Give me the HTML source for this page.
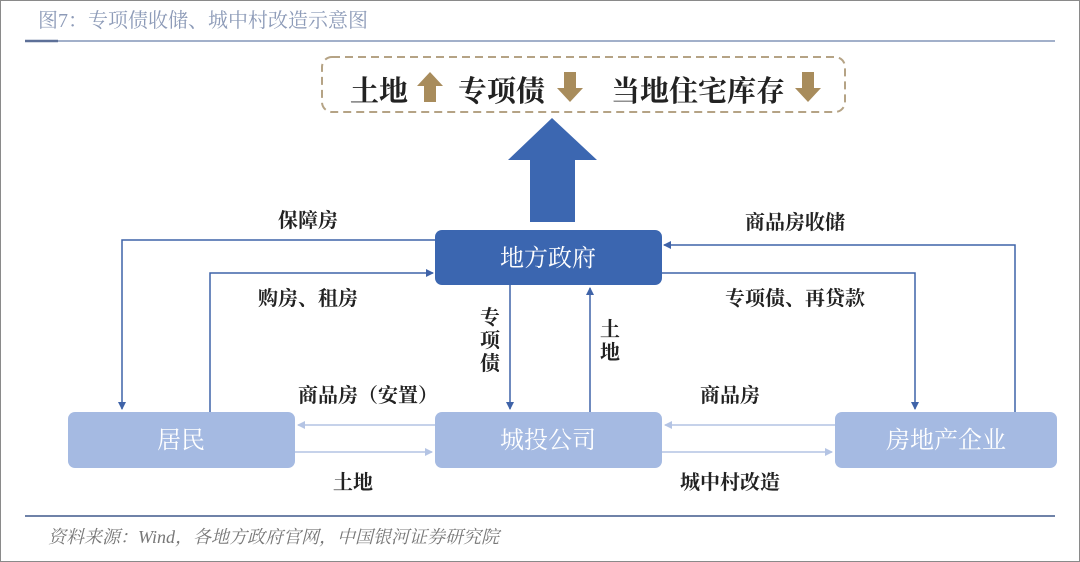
<!DOCTYPE html>
<html><head><meta charset="utf-8"><style>
html,body{margin:0;padding:0;background:#fff;}
svg{display:block;}
.s{font-family:"Liberation Serif","Noto Serif CJK SC",serif;font-weight:bold;}
</style></head><body>
<svg width="1080" height="562" viewBox="0 0 1080 562" xmlns="http://www.w3.org/2000/svg">
<defs>
<marker id="a" markerWidth="8" markerHeight="8" refX="7" refY="4" orient="auto" markerUnits="userSpaceOnUse"><path d="M0,0 L8,4 L0,8 z" fill="#3f63a8"/></marker>
<marker id="b" markerWidth="8" markerHeight="8" refX="7" refY="4" orient="auto" markerUnits="userSpaceOnUse"><path d="M0,0 L8,4 L0,8 z" fill="#b4c4e4"/></marker>
</defs>
<rect x="0.5" y="0.5" width="1079" height="561" fill="#fff" stroke="#8a8a8a"/>
<text x="38" y="27" font-family="Liberation Serif,'Noto Serif CJK SC',serif" font-size="20" fill="#8d9bb8">图7：专项债收储、城中村改造示意图</text>
<line x1="25" y1="41" x2="1055" y2="41" stroke="#8496b8" stroke-width="1.5"/>
<line x1="25" y1="41" x2="58" y2="41" stroke="#5d7098" stroke-width="2.5"/>
<rect x="322" y="57" width="523" height="55" rx="10" fill="none" stroke="#b5a385" stroke-width="2" stroke-dasharray="8,5"/>
<g class="s" font-size="29" fill="#222">
<text x="350" y="101">土地</text>
<text x="458" y="101">专项债</text>
<text x="611" y="101">当地住宅库存</text>
</g>
<path d="M424,102 L424,86 L417,86 L430,72 L443,86 L436,86 L436,102 z" fill="#a88c5c"/>
<path d="M564,72 L564,88 L557,88 L570,102 L583,88 L576,88 L576,72 z" fill="#a88c5c"/>
<path d="M802,72 L802,88 L795,88 L808,102 L821,88 L814,88 L814,72 z" fill="#a88c5c"/>
<path d="M530,222 L530,160 L508,160 L552,118 L597,160 L575,160 L575,222 z" fill="#3c67b1"/>
<rect x="435" y="230" width="227" height="55" rx="7" fill="#3b66b0"/>
<rect x="68" y="412" width="227" height="56" rx="7" fill="#a5bae2"/>
<rect x="435" y="412" width="227" height="56" rx="7" fill="#a5bae2"/>
<rect x="835" y="412" width="222" height="56" rx="7" fill="#a5bae2"/>
<g font-family="Liberation Serif,'Noto Serif CJK SC',serif" font-size="24" fill="#fff" text-anchor="middle">
<text x="548" y="266">地方政府</text>
<text x="181" y="448">居民</text>
<text x="548" y="448">城投公司</text>
<text x="946" y="448">房地产企业</text>
</g>
<g fill="none" stroke="#3f63a8" stroke-width="1.5">
<polyline points="435,240 122,240 122,409" marker-end="url(#a)"/>
<polyline points="210,412 210,273 433,273" marker-end="url(#a)"/>
<line x1="510" y1="285" x2="510" y2="409" marker-end="url(#a)"/>
<line x1="590" y1="412" x2="590" y2="288" marker-end="url(#a)"/>
<polyline points="1015,412 1015,245 664,245" marker-end="url(#a)"/>
<polyline points="662,273 915,273 915,409" marker-end="url(#a)"/>
</g>
<g fill="none" stroke="#b4c4e4" stroke-width="1.5">
<line x1="435" y1="425" x2="298" y2="425" marker-end="url(#b)"/>
<line x1="295" y1="452" x2="432" y2="452" marker-end="url(#b)"/>
<line x1="835" y1="425" x2="665" y2="425" marker-end="url(#b)"/>
<line x1="662" y1="452" x2="832" y2="452" marker-end="url(#b)"/>
</g>
<g class="s" font-size="20" fill="#222">
<text x="278" y="227">保障房</text>
<text x="258" y="305">购房、租房</text>
<text x="745" y="229">商品房收储</text>
<text x="725" y="305">专项债、再贷款</text>
<text x="298" y="402">商品房（安置）</text>
<text x="333" y="489">土地</text>
<text x="700" y="402">商品房</text>
<text x="680" y="489">城中村改造</text>
<text x="480" y="324">专</text>
<text x="480" y="347">项</text>
<text x="480" y="370">债</text>
<text x="600" y="336">土</text>
<text x="600" y="359">地</text>
</g>
<line x1="25" y1="516" x2="1055" y2="516" stroke="#6f82a8" stroke-width="2"/>
<text x="48" y="543" font-family="Liberation Serif,'Noto Serif CJK SC',serif" font-style="italic" font-size="18" fill="#777">资料来源：Wind，各地方政府官网，中国银河证券研究院</text>
</svg>
</body></html>
